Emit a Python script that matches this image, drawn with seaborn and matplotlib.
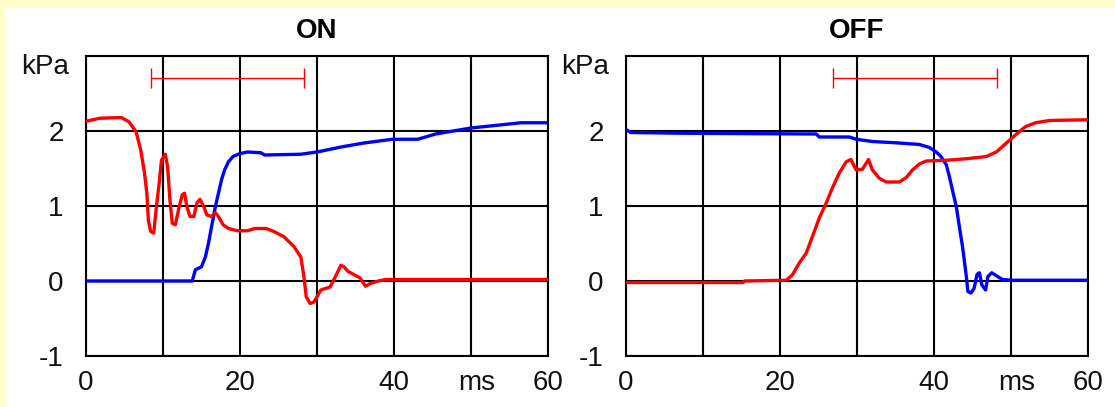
import matplotlib
matplotlib.use('Agg')
import matplotlib.pyplot as plt
import matplotlib.transforms as mtransforms
import seaborn as sns
import pandas as pd

# ON panel (time in ms, pressure in kPa)
on_red_t = [0, 1.8, 4.6, 5.6, 6.5, 7.1, 7.6, 7.9, 8.1, 8.4, 8.8, 9.1, 9.5, 9.8, 10.3, 10.6,
            10.9, 11.2, 11.6, 12.1, 12.5, 12.8, 13.1, 13.5, 14.0, 14.4, 14.8, 15.3, 15.7,
            16.3, 16.8, 17.2, 17.8, 18.5, 19.7, 21.0, 21.9, 23.4, 24.4, 25.7, 27.0, 27.9,
            28.3, 28.6, 29.1, 29.6, 30.5, 31.7, 32.4, 33.1, 33.5, 34.0, 34.9, 35.6, 36.3,
            37.0, 38.0, 38.9, 60]
on_red_p = [2.13, 2.17, 2.18, 2.12, 1.99, 1.75, 1.44, 1.17, 0.81, 0.66, 0.64, 0.95, 1.30,
            1.61, 1.69, 1.52, 1.08, 0.77, 0.75, 0.99, 1.15, 1.17, 0.99, 0.86, 0.86, 1.04,
            1.09, 0.99, 0.88, 0.86, 0.91, 0.86, 0.75, 0.70, 0.67, 0.67, 0.70, 0.70, 0.66,
            0.59, 0.46, 0.32, 0.06, -0.21, -0.30, -0.28, -0.12, -0.08, 0.06, 0.21, 0.19,
            0.13, 0.08, 0.04, -0.07, -0.03, 0.0, 0.02, 0.02]

on_blue_t = [0, 13.8, 14.2, 15.0, 15.5, 15.9, 16.3, 16.8, 17.2, 17.6, 18.0, 18.5, 19.1, 20.0,
             21.0, 22.7, 23.2, 27.9, 30.0, 33.3, 36.1, 39.8, 43.1, 45.4, 47.7, 50.0, 53.7,
             56.5, 60]
on_blue_p = [0, 0, 0.15, 0.19, 0.32, 0.50, 0.72, 0.99, 1.17, 1.35, 1.48, 1.59, 1.66, 1.70,
             1.72, 1.71, 1.68, 1.69, 1.72, 1.79, 1.84, 1.89, 1.89, 1.96, 2.00, 2.04, 2.08,
             2.11, 2.11]

# OFF panel
off_red_t = [0, 15.2, 15.4, 20.8, 21.6, 22.5, 23.4, 24.2, 25.1, 26.0, 26.8, 27.7, 28.6, 29.2,
             29.9, 30.7, 31.5, 32.0, 32.9, 33.8, 35.5, 36.4, 37.2, 38.1, 39.0, 41.6, 44.2,
             46.8, 48.1, 49.4, 50.6, 51.9, 53.2, 55.0, 60]
off_red_p = [-0.02, -0.02, 0.0, 0.01, 0.08, 0.24, 0.37, 0.59, 0.84, 1.04, 1.24, 1.44, 1.59,
             1.62, 1.48, 1.49, 1.62, 1.48, 1.37, 1.32, 1.32, 1.38, 1.48, 1.56, 1.60, 1.61,
             1.63, 1.66, 1.72, 1.84, 1.95, 2.06, 2.11, 2.14, 2.15]

off_blue_t = [0, 0.6, 7.4, 24.7, 25.1, 29.0, 29.9, 32.0, 35.5, 38.1, 39.4, 40.3, 40.9, 41.6,
              42.0, 42.4, 42.9, 43.3, 43.7, 44.2, 44.4, 44.8, 45.2, 45.6, 45.9, 46.2, 46.7,
              47.0, 47.5, 48.1, 48.9, 50.2, 60]
off_blue_p = [2.02, 1.98, 1.97, 1.96, 1.92, 1.92, 1.89, 1.86, 1.84, 1.82, 1.78, 1.72, 1.66,
              1.55, 1.39, 1.21, 0.99, 0.72, 0.46, 0.06, -0.14, -0.16, -0.10, 0.09, 0.11,
              -0.05, -0.12, 0.06, 0.11, 0.07, 0.02, 0.01, 0.01]

# red interval bars at the top (start, end in ms)
on_bar = (8.5, 28.3)
off_bar = (26.9, 48.2)
bar_level = 2.71

titles = ['ON', 'OFF']
x_ticks = [0, 10, 20, 30, 40, 50, 60]
x_labels = ['0', '', '20', '', '40', 'ms', '60']
y_ticks = [-1, 0, 1, 2, 3]
y_labels = ['-1', '0', '1', '2', '']

sns.set_style('white')
plt.rcParams['font.family'] = ['Liberation Sans', 'DejaVu Sans']

fig = plt.figure(figsize=(11.15, 4.07), dpi=100)
fig.patch.set_facecolor('white')
# pale yellow frame strips (top and left)
fig.patches.append(plt.Rectangle((0, 1 - 7 / 407), 1, 7 / 407, transform=fig.transFigure,
                                 color='#FFFFCC', zorder=0))
fig.patches.append(plt.Rectangle((0, 0), 5 / 1115, 1, transform=fig.transFigure,
                                 color='#FFFFCC', zorder=0))

panels = [
    (on_red_t, on_red_p, on_blue_t, on_blue_p, on_bar),
    (off_red_t, off_red_p, off_blue_t, off_blue_p, off_bar),
]
lefts = [86 / 1115, 626 / 1115]

for i, (rt, rp, bt, bp, bar) in enumerate(panels):
    ax = fig.add_axes([lefts[i], 51 / 407, 462 / 1115, 300 / 407])
    red = pd.DataFrame({'t': rt, 'p': rp})
    blue = pd.DataFrame({'t': bt, 'p': bp})
    sns.lineplot(data=blue, x='t', y='p', ax=ax, color='#0000FF', linewidth=2.4,
                 estimator=None, sort=False, zorder=3)
    sns.lineplot(data=red, x='t', y='p', ax=ax, color='#FF0000', linewidth=2.4,
                 estimator=None, sort=False, zorder=4)
    center = (bar[0] + bar[1]) / 2
    half = (bar[1] - bar[0]) / 2
    ax.errorbar([center], [bar_level], xerr=[half], color='#FF0000', lw=1,
                capsize=7, capthick=1, zorder=5)

    ax.set_xlim(0, 60)
    ax.set_ylim(-1, 3)
    ax.set_xticks(x_ticks)
    ax.set_xticklabels(x_labels)
    ax.set_yticks(y_ticks)
    ax.set_yticklabels(y_labels)
    ax.grid(True, color='black', linewidth=1.5)
    ax.set_axisbelow(True)
    for s in ax.spines.values():
        s.set_visible(True)
        s.set_color('black')
        s.set_linewidth(1.5)
    ax.tick_params(axis='both', length=0, labelsize=20, colors='#111111')
    ax.tick_params(axis='y', pad=16)
    ax.tick_params(axis='x', pad=10)
    ax.set_xlabel('')
    ax.set_ylabel('')
    ax.set_title(titles[i], fontsize=20, fontweight='bold', pad=13, color='black')

    # nudge the "ms" unit label slightly right
    shift = mtransforms.ScaledTranslation(6 / 100, 0, fig.dpi_scale_trans)
    ms_label = ax.get_xticklabels()[5]
    ms_label.set_transform(ms_label.get_transform() + shift)

    ax.text(-17 / 462, 0.963, 'kPa', transform=ax.transAxes, ha='right', va='center',
            fontsize=20, color='#111111')

fig.savefig('out.png', dpi=100)
